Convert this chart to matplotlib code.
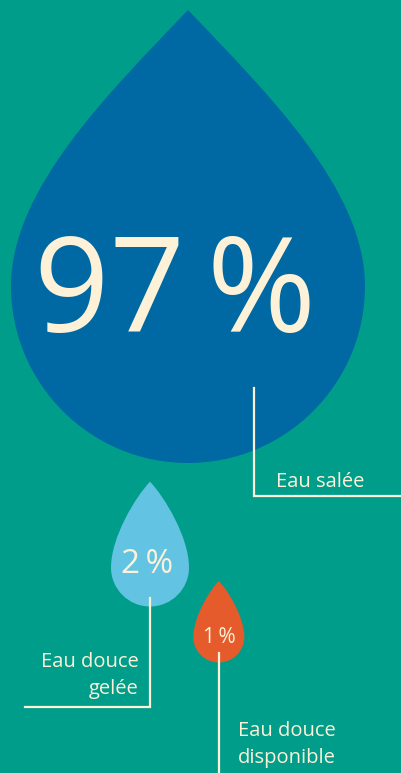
import matplotlib
matplotlib.use("Agg")
import matplotlib.pyplot as plt
from matplotlib.path import Path
from matplotlib.patches import PathPatch

# data
categories = ["Eau salée", "Eau douce\ngelée", "Eau douce\ndisponible"]
shares = [97, 2, 1]
value_labels = [f"{v}\u2009%" for v in shares]

# layout (pixel coordinates, y downward)
drop_centers = [(188, 286), (150, 567.5), (218.8, 637)]
drop_radius = [177, 39, 25.5]
drop_tip = [1.56, 2.2, 2.2]          # tip height in radii above center
drop_colors = ["#0069a3", "#62c3e2", "#e55b2b"]
value_sizes = [95, 24, 15]
value_offsets = [(-13, 12), (-3, -3), (0.7, 0.5)]

BG = "#009e8a"
CREAM = "#fdf1d8"
W, H = 402, 773


def drop_path(cx, cy, r, h):
    # teardrop: curved sides from the tip into a round bottom (unit r, y down)
    k = 0.5523
    a = 0.45 if h < 2 else 0.38
    pts = [
        (0, -h),
        (a, -h + a * 1.05), (1, -0.35 * h), (1, 0),
        (1, k), (k, 1), (0, 1),
        (-k, 1), (-1, k), (-1, 0),
        (-1, -0.35 * h), (-a, -h + a * 1.05), (0, -h),
        (0, -h),
    ]
    codes = [Path.MOVETO] + [Path.CURVE4] * 12 + [Path.CLOSEPOLY]
    verts = [(cx + x * r, cy + y * r) for x, y in pts]
    return Path(verts, codes)


fig = plt.figure(figsize=(W / 100, H / 100), dpi=100, facecolor=BG)
ax = fig.add_axes([0, 0, 1, 1])
ax.set_xlim(0, W)
ax.set_ylim(H, 0)
ax.axis("off")
ax.set_facecolor(BG)

font = ["Open Sans", "DejaVu Sans"]

for (cx, cy), r, h, col, lab, fs, (ox, oy) in zip(
    drop_centers, drop_radius, drop_tip, drop_colors, value_labels,
    value_sizes, value_offsets
):
    ax.add_patch(PathPatch(drop_path(cx, cy, r, h), fc=col, ec="none", zorder=1))
    ax.text(cx + ox, cy + oy, lab, color=CREAM, fontsize=fs, family=font,
            ha="center", va="center", zorder=3)

lw = 1.6
# leader lines
ax.plot([254, 254, W + 2], [388, 496, 496], color=CREAM, lw=lw, zorder=2,
        solid_joinstyle="miter")
ax.plot([150, 150, 25], [598, 707, 707], color=CREAM, lw=lw, zorder=2,
        solid_joinstyle="miter")
ax.plot([219, 219], [653, H + 2], color=CREAM, lw=lw, zorder=2)

# labels (y = baseline of the last line)
ax.text(276, 487, categories[0], color=CREAM, fontsize=14.5, family=font,
        ha="left", va="baseline", linespacing=1.45)
ax.text(139, 694, categories[1], color=CREAM, fontsize=14.5, family=font,
        ha="right", va="baseline", linespacing=1.45, multialignment="right")
ax.text(238, 763, categories[2], color=CREAM, fontsize=14.5, family=font,
        ha="left", va="baseline", linespacing=1.45)

fig.savefig("out.png", dpi=100, facecolor=BG)
